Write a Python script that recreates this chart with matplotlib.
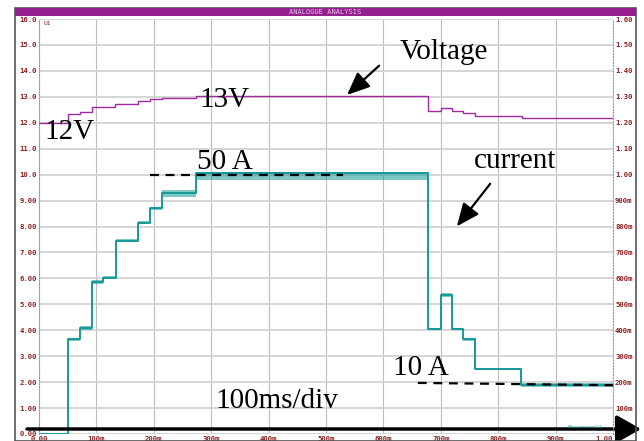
import matplotlib.pyplot as plt
from matplotlib.patches import Rectangle

# voltage trace (left scale, volts)
volt_t = [0.0, 0.050, 0.072, 0.092, 0.132, 0.172, 0.193, 0.214, 0.274, 0.678, 0.700, 0.720, 0.739, 0.760, 0.842, 1.0]
volt_v = [12.0, 12.34, 12.43, 12.62, 12.74, 12.85, 12.90, 12.95, 13.02, 12.44, 12.56, 12.46, 12.37, 12.25, 12.20, 12.20]

# current trace (left scale units, 10.0 = 50 A), step levels with noise band
cur_t = [0.0, 0.050, 0.072, 0.092, 0.112, 0.134, 0.172, 0.193, 0.214, 0.274, 0.678, 0.700, 0.720, 0.739, 0.760, 0.840, 1.0]
cur_lvl = [0.0, 3.65, 4.07, 5.85, 6.02, 7.45, 8.15, 8.70, 9.30, 10.05, 4.05, 5.35, 4.05, 3.65, 2.50, 1.87, 1.87]
cur_lo = [0.0, 3.58, 4.00, 5.80, 5.97, 7.42, 8.10, 8.65, 9.12, 9.78, 4.00, 5.28, 4.00, 3.60, 2.45, 1.80, 1.80]
cur_hi = [0.0, 3.72, 4.15, 5.92, 6.10, 7.50, 8.20, 8.76, 9.42, 10.12, 4.10, 5.45, 4.10, 3.70, 2.56, 1.95, 1.95]

left_ticks = [16, 15, 14, 13, 12, 11, 10, 9, 8, 7, 6, 5, 4, 3, 2, 1, 0]
left_labels = ["16.0", "15.0", "14.0", "13.0", "12.0", "11.0", "10.0", "9.00", "8.00", "7.00",
               "6.00", "5.00", "4.00", "3.00", "2.00", "1.00", "0.00"]
right_labels = ["1.60", "1.50", "1.40", "1.30", "1.20", "1.10", "1.00", "900m", "800m", "700m",
                "600m", "500m", "400m", "300m", "200m", "100m", ""]
x_ticks = [0, 0.1, 0.2, 0.3, 0.4, 0.5, 0.6, 0.7, 0.8, 0.9, 1.0]
x_labels = ["0.00", "100m", "200m", "300m", "400m", "500m", "600m", "700m", "800m", "900m", "1.00"]

tick_color = "#8b2020"
purple = "#a02aa0"
teal = "#16999a"
serif = "Liberation Serif"

fig = plt.figure(figsize=(6.44, 4.41), dpi=100)
ax = fig.add_axes([39 / 644, 1 - 434 / 441, 574 / 644, 415 / 441])

# frame and title bar
fig.patches.append(Rectangle((15 / 644, 0), 621 / 644, 1 - 8 / 441, transform=fig.transFigure,
                             fill=False, edgecolor="#555555", lw=1.2))
fig.patches.append(Rectangle((15 / 644, 1 - 16 / 441), 621 / 644, 8 / 441, transform=fig.transFigure,
                             facecolor="#951f8f", edgecolor="none"))
fig.text(325 / 644, 1 - 12 / 441, "ANALOGUE ANALYSIS", ha="center", va="center",
         fontsize=5, color="#e8c0e8", family="DejaVu Sans Mono")

ax.set_xlim(0, 1)
ax.set_ylim(0, 16)
ax.set_xticks(x_ticks)
ax.set_xticklabels(x_labels)
ax.set_yticks(left_ticks)
ax.set_yticklabels(left_labels)
ax.grid(True, axis="x", color="#bdbdbd", lw=0.8)
ax.grid(True, axis="y", color="#d2d2d2", lw=1.3)
ax.set_axisbelow(True)
for s in ax.spines.values():
    s.set_visible(False)
ax.spines["left"].set_visible(True)
ax.spines["left"].set_linestyle(":")
ax.spines["left"].set_color("#999999")
ax.tick_params(length=0, labelsize=5.2, labelcolor=tick_color, pad=1.5)
for lab in ax.get_xticklabels() + ax.get_yticklabels():
    lab.set_family("DejaVu Sans Mono")
    lab.set_weight("bold")
ax.get_xticklabels()[-1].set_ha("right")

ax2 = ax.twinx()
ax2.set_ylim(0, 1.6)
ax2.set_yticks([v / 10 for v in left_ticks])
ax2.set_yticklabels(right_labels)
for s in ax2.spines.values():
    s.set_visible(False)
ax2.spines["right"].set_visible(True)
ax2.spines["right"].set_linestyle(":")
ax2.spines["right"].set_color("#999999")
ax2.tick_params(length=0, labelsize=5.2, labelcolor=tick_color, pad=1.5)
for lab in ax2.get_yticklabels():
    lab.set_family("DejaVu Sans Mono")
    lab.set_weight("bold")

# traces
ax.plot(volt_t, volt_v, drawstyle="steps-post", color=purple, lw=1)
ax.fill_between(cur_t, cur_lo, cur_hi, step="post", color=teal, alpha=0.55, lw=0)
ax.plot(cur_t, cur_lvl, drawstyle="steps-post", color=teal, lw=1.4)

ax.text(0.008, 15.93, "U1", fontsize=4.5, color=tick_color, family="DejaVu Sans Mono", va="top")

# annotations
ax.plot([0.194, 0.53], [10.0, 10.0], "--", color="black", lw=1.6, dashes=(4, 3))
ax.plot([0.66, 1.005], [1.97, 1.88], "--", color="black", lw=1.6, dashes=(4, 3), clip_on=False)
txt = dict(family=serif, fontsize=21, color="black", va="baseline")
ax.text(0.629, 14.46, "Voltage", **txt)
ax.text(0.280, 12.62, "13V", **txt)
ax.text(0.010, 11.38, "12V", **txt)
ax.text(0.275, 10.23, "50 A", **txt)
ax.text(0.758, 10.27, "current", **txt)
ax.text(0.617, 2.27, "10 A", **txt)
ax.text(0.308, 1.00, "100ms/div", **txt)
ax.annotate("", xy=(0.533, 13.0), xytext=(0.596, 14.27),
            arrowprops=dict(arrowstyle="-|>,head_length=1.4,head_width=0.6", color="black", lw=1.6))
ax.annotate("", xy=(0.725, 7.92), xytext=(0.789, 9.73),
            arrowprops=dict(arrowstyle="-|>,head_length=1.4,head_width=0.6", color="black", lw=1.6))

# time axis arrow across the bottom
ax.annotate("", xy=(641 / 644, 1 - 429 / 441), xytext=(27 / 644, 1 - 429 / 441),
            xycoords="figure fraction", textcoords="figure fraction",
            arrowprops=dict(arrowstyle="-|>,head_length=1.5,head_width=0.85", color="black", lw=2.5,
                            shrinkA=0, shrinkB=0))
fig.text(585 / 644, 1 - 426 / 441, "Measurement[1]", fontsize=3, color=teal, ha="center", va="center")

fig.savefig("out.png", dpi=100)
